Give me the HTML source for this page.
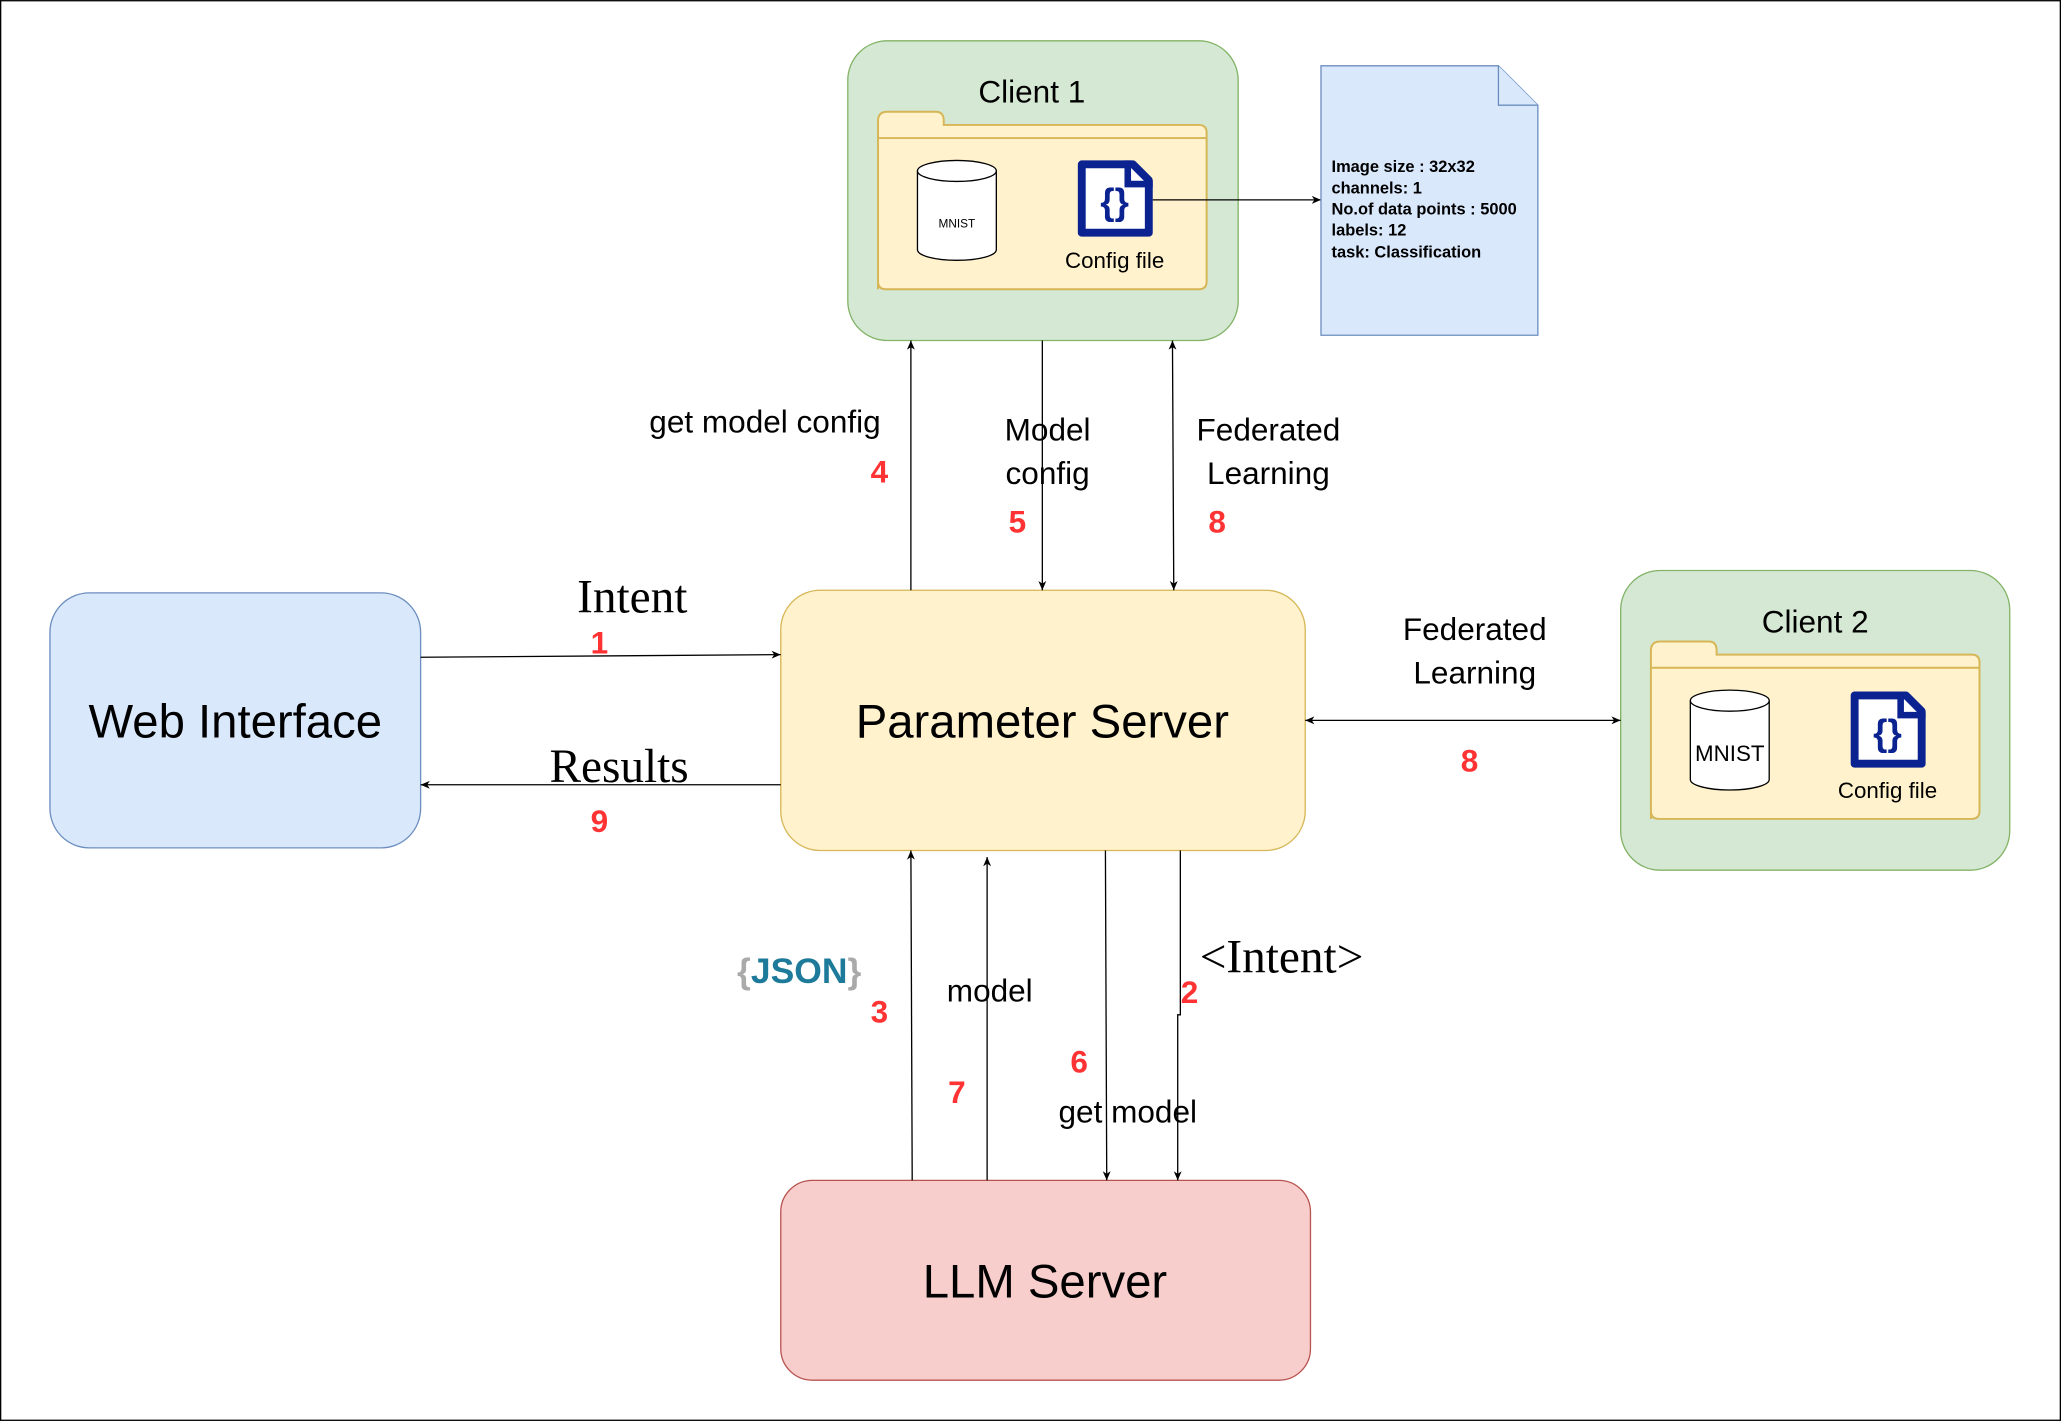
<!DOCTYPE html>
<html><head><meta charset="utf-8"><style>
html,body{margin:0;padding:0;background:#fff;}
svg{display:block;}
text{font-family:"Liberation Sans",sans-serif;}
.serif{font-family:"Liberation Serif",serif;}
.red{fill:#ff3333;font-weight:bold;font-size:24px;}
</style></head><body>
<svg width="2061" height="1421" viewBox="0 0 1568 1081" xmlns="http://www.w3.org/2000/svg">
<defs>
<marker id="a" markerWidth="8" markerHeight="8" refX="7" refY="4" orient="auto" markerUnits="userSpaceOnUse">
<path d="M0,1 L7,4 L0,7 L2,4 z" fill="#000"/></marker>
<marker id="s" markerWidth="8" markerHeight="8" refX="1" refY="4" orient="auto" markerUnits="userSpaceOnUse">
<path d="M8,1 L1,4 L8,7 L6,4 z" fill="#000"/></marker>
</defs>
<rect x="0.5" y="0.5" width="1567" height="1080" fill="#fff" stroke="#000"/>

<!-- Client 1 -->
<rect x="645" y="31" width="297" height="228" rx="30" fill="#d5e8d4" stroke="#82b366"/>
<text x="785" y="78" font-size="24" text-anchor="middle">Client 1</text>
<path d="M668,220 V92 Q668,85 675,85 H712 Q718,85 718,92 V95 H912 Q918,95 918,101 V214 Q918,220 912,220 H674 Q668,220 668,214 Z" fill="#fff2cc" stroke="#d6b656" stroke-width="1.5"/>
<line x1="668" y1="105" x2="918" y2="105" stroke="#d6b656" stroke-width="1.5"/>
<g transform="translate(698,122)">
<path d="M0,8 V68 A30,8 0 0 0 60,68 V8" fill="#fff" stroke="#000"/>
<ellipse cx="30" cy="8" rx="30" ry="8" fill="#fff" stroke="#000"/>
<text x="30" y="51" font-size="9" text-anchor="middle">MNIST</text></g>
<g transform="translate(820,122)">
<path d="M3,3 H42 L54,15 V55 H3 Z" fill="#fff" stroke="#0b2391" stroke-width="6" stroke-linejoin="round"/>
<path d="M38,0 V18 H57" fill="none" stroke="#0b2391" stroke-width="5"/>
<text x="28" y="41" font-size="28" font-weight="bold" fill="#0b2391" text-anchor="middle">{}</text></g>
<text x="848" y="204" font-size="17" text-anchor="middle">Config file</text>
<line x1="877" y1="152" x2="1005" y2="152" stroke="#000" marker-end="url(#a)"/>

<!-- Note -->
<path d="M1005,50 H1140 L1170,80 V255 H1005 Z" fill="#dae8fc" stroke="#6c8ebf"/>
<path d="M1140,50 V80 H1170" fill="#dae8fc" stroke="#6c8ebf"/>
<g font-size="12.5" font-weight="bold">
<text x="1013" y="131">Image size : 32x32</text>
<text x="1013" y="147">channels: 1</text>
<text x="1013" y="163">No.of data points : 5000</text>
<text x="1013" y="179">labels: 12</text>
<text x="1013" y="196">task: Classification</text></g>

<!-- Client 2 -->
<rect x="1233" y="434" width="296" height="228" rx="30" fill="#d5e8d4" stroke="#82b366"/>
<text x="1381" y="481" font-size="24" text-anchor="middle">Client 2</text>
<path d="M1256,623 V495 Q1256,488 1263,488 H1300 Q1306,488 1306,495 V498 H1500 Q1506,498 1506,504 V617 Q1506,623 1500,623 H1262 Q1256,623 1256,617 Z" fill="#fff2cc" stroke="#d6b656" stroke-width="1.5"/>
<line x1="1256" y1="508" x2="1506" y2="508" stroke="#d6b656" stroke-width="1.5"/>
<g transform="translate(1286,525)">
<path d="M0,8 V68 A30,8 0 0 0 60,68 V8" fill="#fff" stroke="#000"/>
<ellipse cx="30" cy="8" rx="30" ry="8" fill="#fff" stroke="#000"/>
<text x="30" y="54" font-size="17" text-anchor="middle">MNIST</text></g>
<g transform="translate(1408,526)">
<path d="M3,3 H42 L54,15 V55 H3 Z" fill="#fff" stroke="#0b2391" stroke-width="6" stroke-linejoin="round"/>
<path d="M38,0 V18 H57" fill="none" stroke="#0b2391" stroke-width="5"/>
<text x="28" y="41" font-size="28" font-weight="bold" fill="#0b2391" text-anchor="middle">{}</text></g>
<text x="1436" y="607" font-size="17" text-anchor="middle">Config file</text>

<!-- Main boxes -->
<rect x="38" y="451" width="282" height="194" rx="30" fill="#dae8fc" stroke="#6c8ebf"/>
<text x="179" y="561" font-size="36" text-anchor="middle">Web Interface</text>
<rect x="594" y="449" width="399" height="198" rx="30" fill="#fff2cc" stroke="#d6b656"/>
<text x="793" y="561" font-size="36" text-anchor="middle">Parameter Server</text>
<rect x="594" y="898" width="403" height="152" rx="24" fill="#f8cecc" stroke="#b85450"/>
<text x="795" y="987" font-size="36" text-anchor="middle">LLM Server</text>

<!-- Arrows -->
<g stroke="#000" fill="none">
<line x1="320" y1="500" x2="594" y2="498" marker-end="url(#a)"/>
<line x1="594" y1="597" x2="320" y2="597" marker-end="url(#a)"/>
<line x1="693" y1="449" x2="693" y2="259" marker-end="url(#a)"/>
<line x1="793" y1="259" x2="793" y2="449" marker-end="url(#a)"/>
<line x1="892" y1="259" x2="893" y2="449" marker-end="url(#a)" marker-start="url(#s)"/>
<line x1="993" y1="548" x2="1233" y2="548" marker-end="url(#a)" marker-start="url(#s)"/>
<line x1="694" y1="898" x2="693" y2="647" marker-end="url(#a)"/>
<line x1="751" y1="898" x2="751" y2="652" marker-end="url(#a)"/>
<line x1="841" y1="647" x2="842" y2="898" marker-end="url(#a)"/>
<polyline points="898,647 898,772 896,772 896,898" marker-end="url(#a)"/>
</g>

<!-- Labels -->
<text class="serif" x="481" y="466" font-size="36" text-anchor="middle">Intent</text>
<text class="red" x="456" y="497" text-anchor="middle">1</text>
<text class="serif" x="471" y="595" font-size="36" text-anchor="middle">Results</text>
<text class="red" x="456" y="633" text-anchor="middle">9</text>
<text x="582" y="329" font-size="24" text-anchor="middle">get model config</text>
<text class="red" x="669" y="367" text-anchor="middle">4</text>
<text x="797" y="335" font-size="24" text-anchor="middle">Model</text>
<text x="797" y="368" font-size="24" text-anchor="middle">config</text>
<text class="red" x="774" y="405" text-anchor="middle">5</text>
<text x="965" y="335" font-size="24" text-anchor="middle">Federated</text>
<text x="965" y="368" font-size="24" text-anchor="middle">Learning</text>
<text class="red" x="926" y="405" text-anchor="middle">8</text>
<text x="1122" y="487" font-size="24" text-anchor="middle">Federated</text>
<text x="1122" y="520" font-size="24" text-anchor="middle">Learning</text>
<text class="red" x="1118" y="587" text-anchor="middle">8</text>
<text x="608" y="748" font-size="27" font-weight="bold" text-anchor="middle"><tspan fill="#aaa">{</tspan><tspan fill="#1e7a9a">JSON</tspan><tspan fill="#aaa">}</tspan></text>
<text class="red" x="669" y="778" text-anchor="middle">3</text>
<text x="753" y="762" font-size="24" text-anchor="middle">model</text>
<text class="red" x="728" y="839" text-anchor="middle">7</text>
<text class="red" x="821" y="816" text-anchor="middle">6</text>
<text x="858" y="854" font-size="24" text-anchor="middle">get model</text>
<text class="serif" x="975" y="740" font-size="36" text-anchor="middle">&lt;Intent&gt;</text>
<text class="red" x="905" y="763" text-anchor="middle">2</text>
</svg>
</body></html>
